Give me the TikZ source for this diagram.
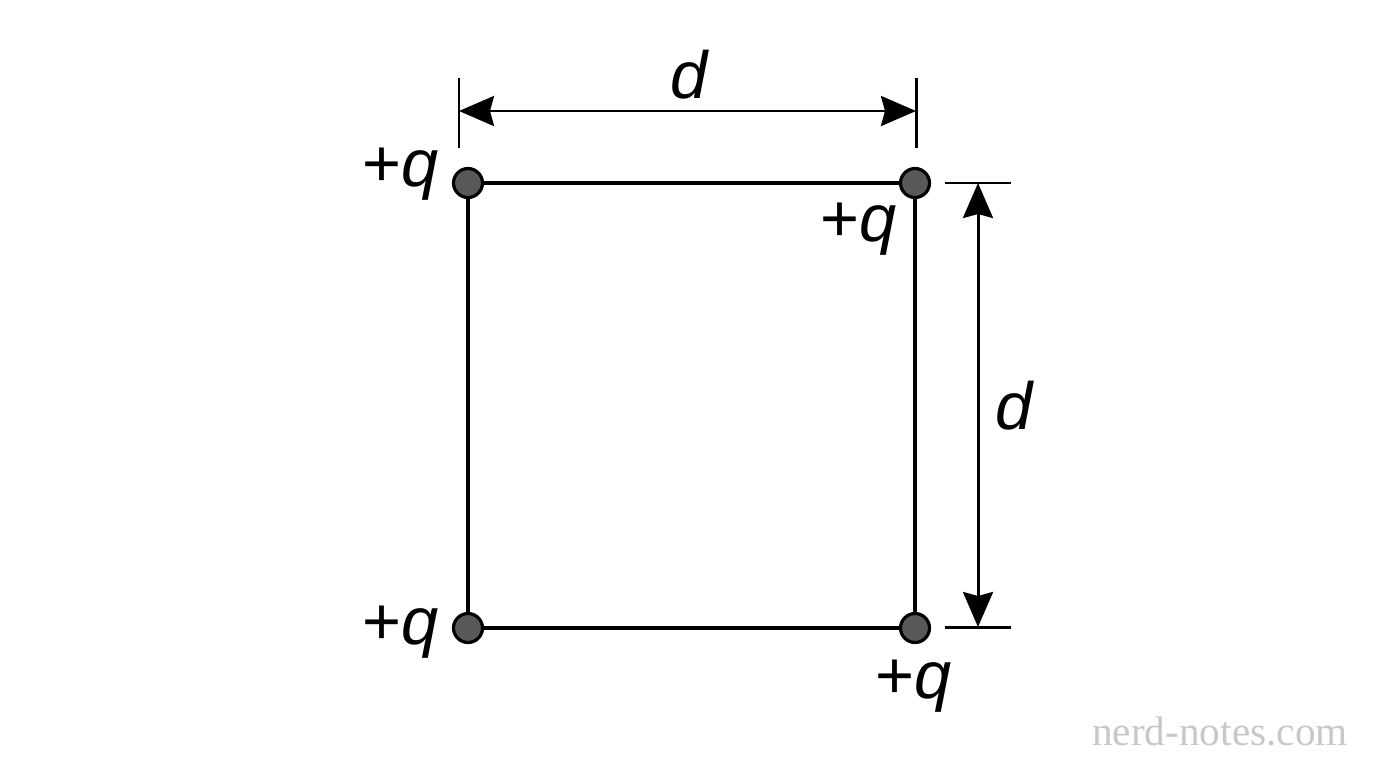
\documentclass[tikz,border=0pt]{standalone}
\usepackage{fontspec}
\setmainfont{Liberation Sans}
\newfontfamily\markfont{Liberation Serif}
\usetikzlibrary{positioning}
\usetikzlibrary{arrows.meta}
\definecolor{charge}{RGB}{88,88,88}
\definecolor{markgray}{RGB}{200,200,200}

\begin{document}
\begin{tikzpicture}[x=0.02cm, y=-0.02cm, >={Stealth[length=0.7cm,width=0.6cm,inset=0.08cm]},
  side/.style={line width=1.8pt},
  dim/.style={line width=1.7pt},
  dot/.style={circle, draw=black, line width=1.8pt, fill=charge, minimum size=0.58cm, inner sep=0pt},
  lab/.style={font=\fontsize{38}{42}\selectfont, inner sep=0pt}]

\useasboundingbox (0,0) rectangle (1376,768);

% corners of the square
\node [dot] (tl) at (468,183) {};
\node [dot] (tr) at (915,183) {};
\node [dot] (bl) at (468,628) {};
\node [dot] (br) at (915,628) {};

\draw [side] (tl) -- (tr);
\draw [side] (tr) -- (br);
\draw [side] (br) -- (bl);
\draw [side] (bl) -- (tl);

% charges
\node [lab] (qtl) at (401,174) {+\textit{q}};
\node [lab] (qtr) at (859,229) {+\textit{q}};
\node [lab] (qbl) at (401,632) {+\textit{q}};
\node [lab] (qbr) at (914,686) {+\textit{q}};

% dimension on top
\coordinate (a1) at (459,78);
\coordinate (a2) at (459,148);
\coordinate (b1) at (916,78);
\coordinate (b2) at (916,148);
\draw [dim] (a1) -- (a2);
\draw [dim] (b1) -- (b2);
\coordinate (ha) at (459,111);
\coordinate (hb) at (916,111);
\draw [dim, <->] (ha) -- (hb);
\node [lab] (dtop) at (690,75) {\textit{d}};

% dimension on the right
\coordinate (c1) at (945,183);
\coordinate (c2) at (1011,183);
\coordinate (e1) at (945,627);
\coordinate (e2) at (1011,627);
\draw [dim] (c1) -- (c2);
\draw [dim] (e1) -- (e2);
\coordinate (va) at (978,183);
\coordinate (vb) at (978,627);
\draw [dim, <->] (va) -- (vb);
\node [lab] (dright) at (1015,406) {\textit{d}};

% watermark
\node [markgray, font=\markfont\fontsize{23.5}{26}\selectfont, inner sep=0pt] (mark) at (1220,731) {nerd-notes.com};

\end{tikzpicture}
\end{document}
